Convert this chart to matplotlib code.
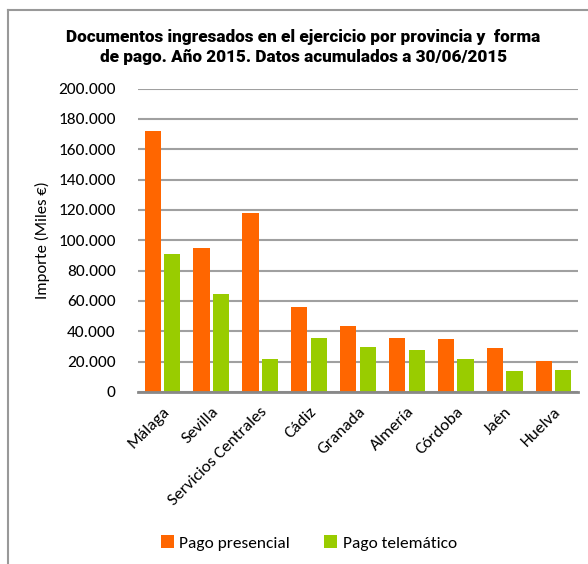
import numpy as np
import matplotlib.pyplot as plt
from matplotlib import font_manager

provincias = ['Málaga', 'Sevilla', 'Servicios Centrales', 'Cádiz', 'Granada',
              'Almería', 'Córdoba', 'Jaén', 'Huelva']
presencial = [171900, 95200, 118200, 55900, 43400, 35700, 34700, 28700, 20400]
telematico = [91300, 64700, 21900, 35300, 29800, 27400, 21500, 13800, 14500]
series_names = ['Pago presencial', 'Pago telemático']
colors = ['#FF6600', '#99CC00']

installed = {f.name for f in font_manager.fontManager.ttflist}
title_font = 'Liberation Sans Narrow' if 'Liberation Sans Narrow' in installed else 'Roboto'
body_font = 'Carlito' if 'Carlito' in installed else 'Lato'

fig = plt.figure(figsize=(5.88, 5.64), dpi=100)
ax = fig.add_axes([0.2347, 0.305, 0.7483, 0.5378])

x = np.arange(len(provincias))
w = 0.33
ax.bar(x - 0.2, presencial, w, color=colors[0], label=series_names[0], zorder=3)
ax.bar(x + 0.2, telematico, w, color=colors[1], label=series_names[1], zorder=3)

ax.set_xlim(-0.5, len(provincias) - 0.5)
ax.set_ylim(0, 200000)
ax.set_yticks(np.arange(0, 200001, 20000))
ax.set_yticklabels([f'{v:,}'.replace(',', '.') for v in range(0, 200001, 20000)],
                   fontsize=12.5, family=body_font)
ax.set_xticks(x)
ax.set_xticklabels(provincias, rotation=45, ha='right', rotation_mode='anchor',
                   fontsize=12.5, family=body_font)
ax.tick_params(axis='x', length=0, pad=9)
ax.tick_params(axis='y', length=0, pad=16)
ax.grid(axis='y', color='#A0A0A0', linewidth=1.5, zorder=0)
for s in ['top', 'right', 'left']:
    ax.spines[s].set_visible(False)
ax.spines['bottom'].set_color('#888888')
ax.spines['bottom'].set_linewidth(2)
ax.spines['bottom'].set_zorder(4)

ax.set_ylabel('Importe (Miles €)', fontsize=12, family=body_font, labelpad=6)

fig.text(0.516, 0.948, 'Documentos ingresados en el ejercicio por provincia y  forma\n'
         'de pago. Año 2015. Datos acumulados a 30/06/2015',
         ha='center', va='top', fontsize=12.3, fontweight='heavy', family=title_font,
         linespacing=1.3)

fig.legend(loc='center', bbox_to_anchor=(0.525, 0.037), ncol=2, frameon=False,
           prop={'family': body_font, 'size': 12.5}, handlelength=0.75, handleheight=0.75,
           handletextpad=0.3, columnspacing=2.0)

# outer chart frame (only left and top visible)
fig.add_artist(plt.Line2D([8 / 588, 8 / 588], [0, 1 - 10 / 564], color='#999999', lw=1.5,
                          transform=fig.transFigure))
fig.add_artist(plt.Line2D([8 / 588, 1], [1 - 10 / 564, 1 - 10 / 564], color='#999999', lw=1.5,
                          transform=fig.transFigure))

fig.savefig('out.png', dpi=100)
